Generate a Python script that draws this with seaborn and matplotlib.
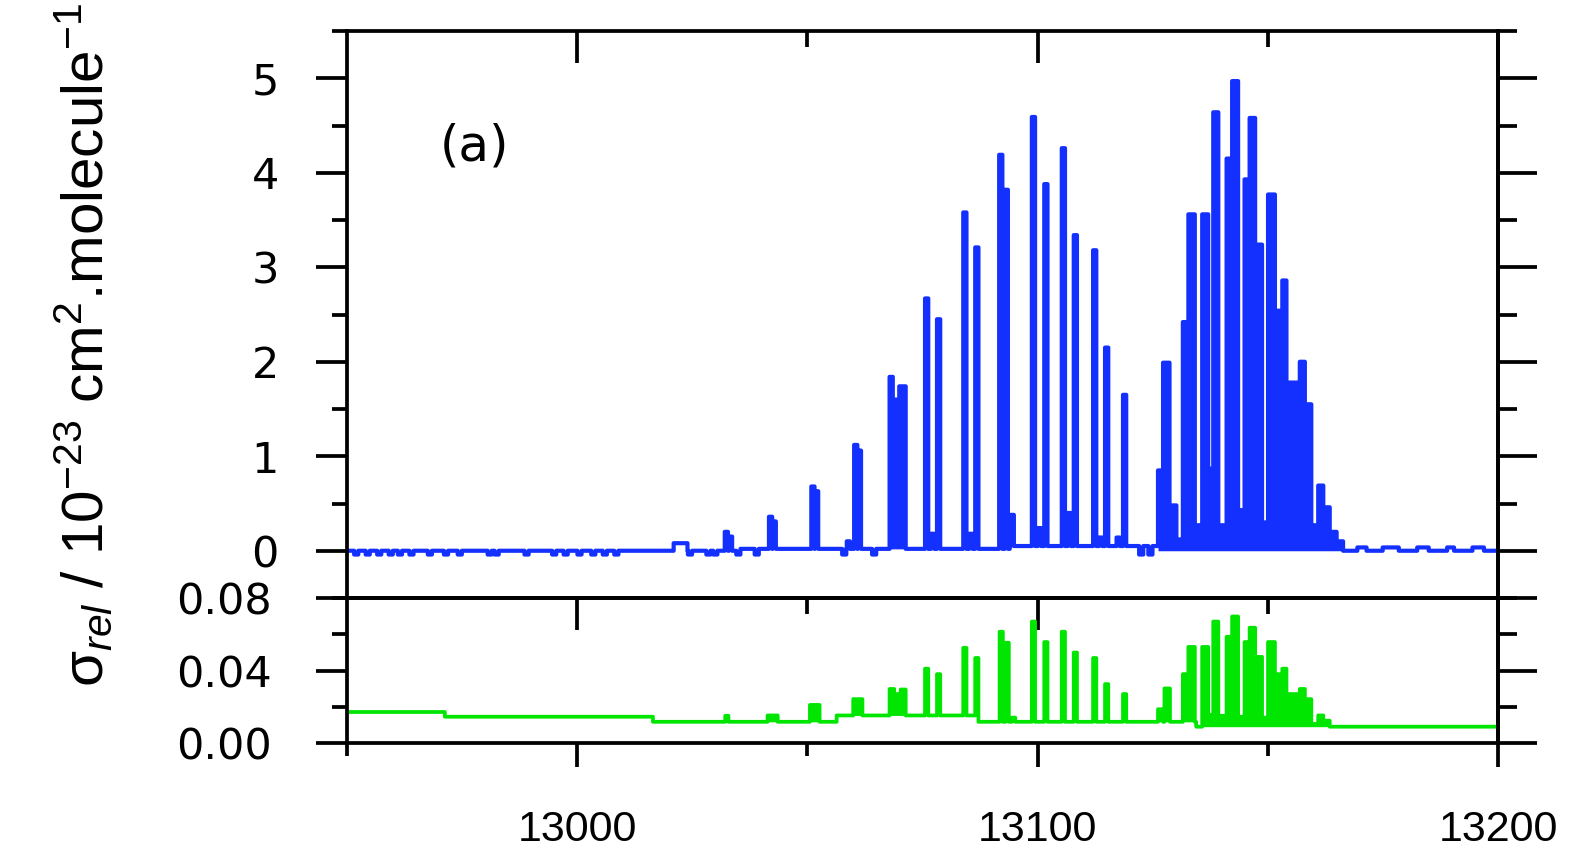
import numpy as np
import pandas as pd
import matplotlib
matplotlib.use("Agg")
import matplotlib.pyplot as plt
import seaborn as sns
from matplotlib.ticker import FixedLocator, MultipleLocator, NullFormatter

# ---------------- data ----------------
x_min, x_max = 12950, 13200
x_major = [13000, 13100, 13200]
x_minor = [13050, 13150]
x_labels = ["13000", "13100", "13200"]

top_yticks = [0, 1, 2, 3, 4, 5]
top_ylabels = ["0", "1", "2", "3", "4", "5"]
top_ylim = (-0.5, 5.5)
bot_yticks = [0.00, 0.04, 0.08]
bot_ylabels = ["0.00", "0.04", "0.08"]
bot_ylim = (0.0, 0.08)

# blue (cross section) : isolated lines
blue_line_pos = [13032.4, 13033.3, 13042.0, 13042.8, 13051.2, 13052.0, 13058.9,
                 13060.5, 13061.3, 13068.2, 13068.9, 13069.6, 13070.3, 13071.0,
                 13075.9, 13077.2, 13078.5, 13084.2, 13085.5, 13086.8,
                 13092.0, 13093.2, 13094.5, 13099.1, 13100.4, 13101.8,
                 13105.6, 13106.9, 13108.2, 13112.4, 13113.7, 13115.0,
                 13117.5, 13118.9]
blue_line_val = [0.20, 0.15, 0.36, 0.31, 0.68, 0.63, 0.10,
                 1.12, 1.06, 1.84, 1.60, 1.60, 1.74, 1.74,
                 2.67, 0.18, 2.45, 3.58, 0.18, 3.21,
                 4.19, 3.82, 0.38, 4.59, 0.24, 3.88,
                 4.26, 0.40, 3.34, 3.18, 0.14, 2.15,
                 0.14, 1.65]
# blue : contiguous structure of the dense band
blue_block_lo = [13126.2, 13127.3, 13128.7, 13130.2, 13131.6, 13132.8, 13134.2, 13135.8,
                 13137.1, 13138.2, 13139.3, 13141.1, 13142.3, 13143.6, 13145.0, 13146.1,
                 13147.3, 13148.8, 13150.1, 13151.6, 13153.2, 13154.1, 13157.0, 13158.1,
                 13159.5, 13161.0, 13162.1, 13163.5, 13165.0]
blue_block_hi = [13127.3, 13128.7, 13130.2, 13131.6, 13132.8, 13134.2, 13135.8, 13137.1,
                 13138.2, 13139.3, 13141.1, 13142.3, 13143.6, 13145.0, 13146.1, 13147.3,
                 13148.8, 13150.1, 13151.6, 13153.2, 13154.1, 13157.0, 13158.1, 13159.5,
                 13161.0, 13162.1, 13163.5, 13165.0, 13166.4]
blue_block_val = [0.85, 1.99, 0.48, 0.12, 2.42, 3.56, 0.27, 3.56,
                  0.87, 4.64, 0.27, 4.15, 4.97, 0.43, 3.93, 4.58,
                  3.24, 0.30, 3.77, 2.54, 2.86, 1.78, 2.00, 1.55,
                  0.27, 0.69, 0.46, 0.20, 0.10]
# blue : raised baseline pieces
blue_floor_lo = [13021.0, 13035.0, 13094.0, 13169.5, 13175.0, 13182.5, 13189.0, 13194.5]
blue_floor_hi = [13024.0, 13094.0, 13126.2, 13171.5, 13178.5, 13185.0, 13190.5, 13197.0]
blue_floor_val = [0.08, 0.02, 0.05, 0.035, 0.035, 0.035, 0.035, 0.035]
# blue : small negative noise dips of the baseline
blue_dip_pos = [12952.0, 12954.5, 12957.0, 12959.5, 12961.5, 12964.0, 12968.0, 12971.5,
                12974.5, 12981.0, 12982.5, 12989.0, 12995.0, 12997.5, 13000.5, 13003.5,
                13006.0, 13008.5, 13024.5, 13028.5, 13030.0, 13035.0, 13039.0, 13058.0,
                13064.5, 13122.5, 13124.5]
blue_dip_val = -0.04

# green (uncertainty) : isolated lines
green_line_pos = [13032.5, 13075.9, 13078.5, 13084.2, 13086.8, 13092.1, 13093.4, 13094.8,
                  13099.1, 13101.8, 13105.6, 13108.2, 13112.4, 13115.0, 13118.9]
green_line_val = [0.0150, 0.0410, 0.0380, 0.0525, 0.0469, 0.0614, 0.0553, 0.0140,
                  0.0670, 0.0557, 0.0614, 0.0499, 0.0469, 0.0325, 0.0270]
# green : contiguous blocks
green_block_lo = [13041.4, 13050.6, 13060.0, 13067.9, 13068.9, 13070.3,
                  13126.2, 13127.6, 13131.6, 13132.8, 13135.8, 13137.1, 13138.2, 13139.3,
                  13141.1, 13142.3, 13143.6, 13145.0, 13146.1, 13147.3, 13148.8, 13150.1,
                  13151.6, 13153.2, 13154.1, 13157.0, 13158.1, 13159.5, 13161.0, 13162.1]
green_block_hi = [13043.6, 13052.7, 13062.0, 13068.9, 13070.3, 13071.4,
                  13127.3, 13128.8, 13132.8, 13134.2, 13137.1, 13138.2, 13139.3, 13141.1,
                  13142.3, 13143.6, 13145.0, 13146.1, 13147.3, 13148.8, 13150.1, 13151.6,
                  13153.2, 13154.1, 13157.0, 13158.1, 13159.5, 13161.0, 13162.1, 13163.5]
green_block_val = [0.0152, 0.0210, 0.0242, 0.0298, 0.0270, 0.0295,
                   0.0186, 0.0301, 0.0380, 0.0530, 0.0530, 0.0155, 0.0670, 0.0150,
                   0.0586, 0.0698, 0.0145, 0.0557, 0.0636, 0.0475, 0.0140, 0.0557,
                   0.0380, 0.0410, 0.0270, 0.0298, 0.0242, 0.0105, 0.0152, 0.0123]
# green : baseline levels
green_floor_lo = [12950.0, 12971.3, 13016.5, 13056.4, 13086.8, 13134.5]
green_floor_hi = [12971.3, 13016.5, 13056.4, 13086.8, 13134.5, 13200.1]
green_floor_val = [0.0171, 0.0145, 0.0117, 0.0152, 0.0117, 0.0090]

panel_label = "(a)"
panel_label_pos = (12977.8, 4.28)

BLUE = "#1430ff"
GREEN = "#00e600"

# ---------------- helpers ----------------
grid = np.round(np.arange(x_min, x_max + 0.05, 0.1), 2)


def build(floor_lo, floor_hi, floor_val, line_pos=(), line_val=(),
          block_lo=(), block_hi=(), block_val=(), dip_pos=(), dip_val=0.0, hw=0.3):
    y = np.zeros(grid.shape, float)
    for lo, hi, v in zip(floor_lo, floor_hi, floor_val):
        y[(grid >= lo - 1e-9) & (grid < hi - 1e-9)] = v
    for p in dip_pos:
        y[np.abs(grid - p) <= 0.4 + 1e-9] = dip_val
    for p, v in zip(line_pos, line_val):
        m = np.abs(grid - p) <= hw + 1e-9
        y[m] = np.maximum(y[m], v)
    for lo, hi, v in zip(block_lo, block_hi, block_val):
        y[(grid >= lo - 1e-9) & (grid < hi - 1e-9)] = v
    return y


blue_y = build(blue_floor_lo, blue_floor_hi, blue_floor_val, blue_line_pos, blue_line_val,
               blue_block_lo, blue_block_hi, blue_block_val, blue_dip_pos, blue_dip_val)
blue_base = np.minimum(build(blue_floor_lo, blue_floor_hi, blue_floor_val), blue_y)
green_y = build(green_floor_lo, green_floor_hi, green_floor_val, green_line_pos, green_line_val,
                green_block_lo, green_block_hi, green_block_val)
green_base = np.minimum(build(green_floor_lo, green_floor_hi, green_floor_val), green_y)

df_top = pd.DataFrame({"wn": grid, "sigma": blue_y})
df_bot = pd.DataFrame({"wn": grid, "err": green_y})

# ---------------- style ----------------
sns.set_style("white")
MAIN = "Liberation Sans"
plt.rcParams["font.family"] = [MAIN, "DejaVu Sans"]
plt.rcParams["mathtext.fontset"] = "custom"
plt.rcParams["mathtext.rm"] = MAIN
plt.rcParams["mathtext.it"] = MAIN + ":italic"
plt.rcParams["mathtext.bf"] = MAIN + ":bold"
for k in ("text.color", "axes.labelcolor", "xtick.color", "ytick.color", "axes.edgecolor"):
    plt.rcParams[k] = "black"

fig = plt.figure(figsize=(15.84, 8.49), dpi=100)
W, H = 1584.0, 849.0
L, R = 347.0, 1498.0
T1, B1, B2 = 31.0, 598.0, 743.0
ax1 = fig.add_axes([L / W, 1 - B1 / H, (R - L) / W, (B1 - T1) / H])
ax2 = fig.add_axes([L / W, 1 - B2 / H, (R - L) / W, (B2 - B1) / H])

sns.lineplot(data=df_top, x="wn", y="sigma", ax=ax1, color=BLUE, linewidth=3.0,
             drawstyle="steps-mid", estimator=None, sort=False, errorbar=None, legend=False)
ax1.fill_between(df_top["wn"], blue_base, df_top["sigma"], step="mid", color=BLUE, linewidth=0)
sns.lineplot(data=df_bot, x="wn", y="err", ax=ax2, color=GREEN, linewidth=2.7,
             drawstyle="steps-mid", estimator=None, sort=False, errorbar=None, legend=False)
ax2.fill_between(df_bot["wn"], green_base, df_bot["err"], step="mid", color=GREEN, linewidth=0)

SPW = 2.7
TICK_FONT = dict(family=["DejaVu Sans"], size=31, color="black")

for ax in (ax1, ax2):
    ax.set_xlim(x_min, x_max)
    ax.set_xlabel("")
    ax.set_ylabel("")
    ax.set_facecolor("white")
    for s in ax.spines.values():
        s.set_visible(True)
        s.set_linewidth(SPW)
        s.set_color("black")
    ax.xaxis.set_major_locator(FixedLocator(x_major))

# ---- top panel ----
ax1.set_ylim(*top_ylim)
ax1.xaxis.set_minor_locator(FixedLocator(x_minor))
ax1.tick_params(axis="x", which="both", direction="in", top=True, bottom=False,
                labelbottom=False, labeltop=False, width=SPW, color="black")
ax1.tick_params(axis="x", which="major", length=23)
ax1.tick_params(axis="x", which="minor", length=11.5)
ax1.yaxis.set_major_locator(FixedLocator(top_yticks))
ax1.yaxis.set_minor_locator(MultipleLocator(0.5))
ax1.tick_params(axis="y", which="both", direction="out", left=True, right=False,
                width=SPW, color="black")
ax1.tick_params(axis="y", which="major", length=22, pad=27)
ax1.tick_params(axis="y", which="minor", length=11)
ax1.set_yticks(top_yticks)
ax1.set_yticklabels(top_ylabels, fontdict=TICK_FONT)
r1 = ax1.secondary_yaxis("right")
r1.yaxis.set_major_locator(FixedLocator(top_yticks))
r1.yaxis.set_minor_locator(MultipleLocator(0.5))
r1.yaxis.set_major_formatter(NullFormatter())
r1.tick_params(axis="y", which="both", direction="out", width=SPW, color="black")
r1.tick_params(axis="y", which="major", length=28)
r1.tick_params(axis="y", which="minor", length=14)
r1.spines["right"].set_linewidth(SPW)

ax1.text(panel_label_pos[0], panel_label_pos[1], panel_label, ha="center", va="center",
         fontsize=36, family=["DejaVu Sans"], color="black")

# ---- bottom panel ----
ax2.set_ylim(*bot_ylim)
ax2.xaxis.set_minor_locator(FixedLocator([12950] + x_minor))
ax2.tick_params(axis="x", which="both", direction="out", top=False, bottom=True,
                width=SPW, color="black")
ax2.tick_params(axis="x", which="major", length=17, pad=31)
ax2.tick_params(axis="x", which="minor", length=9)
ax2.set_xticks(x_major)
ax2.set_xticklabels(x_labels, fontdict=dict(family=[MAIN, "DejaVu Sans"], size=31, color="black"))
ax2.yaxis.set_major_locator(FixedLocator(bot_yticks))
ax2.yaxis.set_minor_locator(MultipleLocator(0.02))
ax2.tick_params(axis="y", which="both", direction="out", left=True, right=False,
                width=SPW, color="black")
ax2.tick_params(axis="y", which="major", length=22, pad=32)
ax2.tick_params(axis="y", which="minor", length=11)
ax2.set_yticks(bot_yticks)
ax2.set_yticklabels(bot_ylabels, fontdict=TICK_FONT)
t2 = ax2.secondary_xaxis("top")
t2.xaxis.set_major_locator(FixedLocator(x_major))
t2.xaxis.set_minor_locator(FixedLocator(x_minor))
t2.xaxis.set_major_formatter(NullFormatter())
t2.tick_params(axis="x", which="both", direction="in", width=SPW, color="black")
t2.tick_params(axis="x", which="major", length=23)
t2.tick_params(axis="x", which="minor", length=11.5)
t2.spines["top"].set_linewidth(SPW)
r2 = ax2.secondary_yaxis("right")
r2.yaxis.set_major_locator(FixedLocator(bot_yticks))
r2.yaxis.set_minor_locator(MultipleLocator(0.02))
r2.yaxis.set_major_formatter(NullFormatter())
r2.tick_params(axis="y", which="both", direction="out", width=SPW, color="black")
r2.tick_params(axis="y", which="major", length=28)
r2.tick_params(axis="y", which="minor", length=14)
r2.spines["right"].set_linewidth(SPW)

# ---- shared y label ----
ylabel = r"σ$_{rel}$ / 10$^{-23}$ cm$^{2}$.molecule$^{-1}$"
fig.text(84 / W, 1 - 345 / H, ylabel, rotation=90, ha="center", va="center",
         fontsize=42, color="black")

fig.savefig("out.png", dpi=100, facecolor="white")
